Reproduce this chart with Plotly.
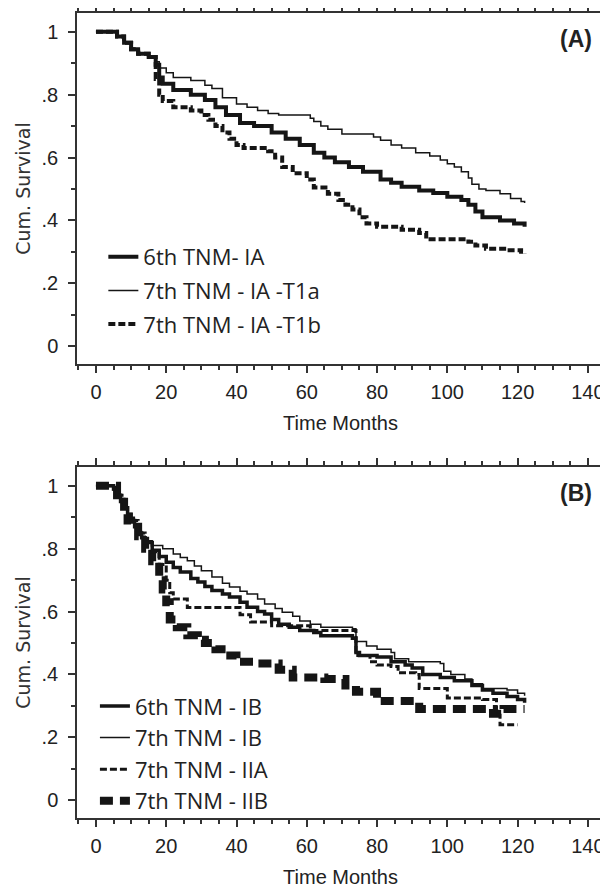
import plotly.graph_objects as go

# ---- panel A: stage IA survival (months, cumulative survival) ----
ia6_months = [0, 6, 8, 10, 12, 15, 17, 18, 19, 22, 27, 31, 34, 37, 41, 45, 50, 54, 58, 62,
              65, 68, 72, 76, 81, 84, 87, 92, 96, 100, 104, 106, 108, 110, 115, 119, 122]
ia6_surv = [1.0, 0.985, 0.965, 0.945, 0.93, 0.92, 0.895, 0.855, 0.835, 0.815, 0.80, 0.783,
            0.76, 0.735, 0.71, 0.70, 0.68, 0.66, 0.64, 0.615, 0.60, 0.585, 0.57, 0.555, 0.53,
            0.52, 0.507, 0.495, 0.487, 0.475, 0.465, 0.45, 0.428, 0.41, 0.40, 0.39, 0.38]

t1a_months = [0, 6, 8, 10, 12, 15, 17, 18, 20, 22, 27, 31, 33, 36, 40, 43, 46, 49, 52, 61,
              62, 64, 66, 70, 79, 81, 84, 87, 91, 95, 98, 100, 102, 104, 106, 107, 109, 111,
              115, 118, 121, 122]
t1a_surv = [1.0, 0.985, 0.965, 0.945, 0.93, 0.92, 0.905, 0.885, 0.87, 0.855, 0.845, 0.83,
            0.82, 0.79, 0.77, 0.76, 0.75, 0.74, 0.735, 0.725, 0.715, 0.70, 0.69, 0.675, 0.665,
            0.655, 0.64, 0.63, 0.615, 0.605, 0.592, 0.58, 0.57, 0.555, 0.535, 0.515, 0.50,
            0.495, 0.485, 0.47, 0.46, 0.455]

t1b_months = [0, 6, 8, 10, 12, 15, 17, 18, 19, 22, 27, 30, 32, 34, 36, 38, 40, 42, 49, 51,
              53, 56, 60, 62, 66, 69, 71, 73, 75, 77, 80, 87, 92, 94, 106, 108, 111, 117, 121,
              122]
t1b_surv = [1.0, 0.985, 0.965, 0.945, 0.93, 0.92, 0.85, 0.80, 0.78, 0.76, 0.75, 0.735, 0.72,
            0.70, 0.68, 0.66, 0.64, 0.63, 0.62, 0.60, 0.57, 0.55, 0.53, 0.505, 0.485, 0.465,
            0.45, 0.435, 0.41, 0.39, 0.38, 0.37, 0.36, 0.34, 0.332, 0.32, 0.31, 0.305, 0.30,
            0.295]

# ---- panel B: stage IB / II survival ----
ib6_months = [0, 5, 6, 7, 8, 9, 10, 11, 12, 13, 14, 16, 18, 20, 22, 24, 27, 29, 31, 33, 36,
              38, 41, 43, 46, 48, 50, 52, 55, 58, 62, 64, 73, 74, 75, 80, 84, 88, 90, 93, 98,
              102, 107, 110, 113, 117, 120, 122]
ib6_surv = [1.0, 0.99, 0.97, 0.95, 0.93, 0.91, 0.89, 0.87, 0.85, 0.835, 0.82, 0.795, 0.775,
            0.757, 0.74, 0.726, 0.705, 0.694, 0.68, 0.667, 0.656, 0.646, 0.63, 0.614, 0.60,
            0.592, 0.575, 0.56, 0.55, 0.54, 0.533, 0.523, 0.515, 0.47, 0.46, 0.455, 0.44,
            0.43, 0.42, 0.40, 0.39, 0.38, 0.365, 0.35, 0.34, 0.33, 0.32, 0.31]

ib7_months = [0, 5, 6, 7, 8, 9, 10, 11, 12, 13, 14, 16, 19, 22, 24, 26, 28, 30, 33, 36, 38,
              41, 43, 46, 48, 51, 53, 56, 58, 61, 64, 73, 74, 77, 80, 84, 85, 89, 98, 99, 101,
              105, 107, 110, 117, 120, 122]
ib7_surv = [1.0, 0.99, 0.97, 0.95, 0.93, 0.91, 0.89, 0.87, 0.855, 0.84, 0.825, 0.81, 0.80,
            0.783, 0.772, 0.762, 0.745, 0.73, 0.71, 0.69, 0.678, 0.665, 0.656, 0.64, 0.624,
            0.61, 0.598, 0.585, 0.57, 0.56, 0.55, 0.545, 0.505, 0.49, 0.48, 0.47, 0.45, 0.44,
            0.435, 0.41, 0.40, 0.385, 0.37, 0.355, 0.35, 0.34, 0.332]

iia_months = [0, 5, 6, 8, 9, 10, 12, 14, 16, 18, 20, 21, 22, 26, 41, 44, 50, 61, 74, 78, 80,
              84, 86, 91, 92, 100, 110, 114, 115, 120]
iia_surv = [1.0, 0.99, 0.97, 0.93, 0.91, 0.89, 0.85, 0.82, 0.79, 0.75, 0.70, 0.66, 0.64,
            0.613, 0.59, 0.567, 0.555, 0.54, 0.46, 0.44, 0.43, 0.425, 0.405, 0.40, 0.355,
            0.325, 0.32, 0.27, 0.24, 0.24]

iib_months = [0, 6, 8, 9, 10, 12, 14, 16, 18, 19, 20, 21, 23, 26, 29, 31, 34, 37, 40, 45,
              52, 56, 65, 71, 74, 80, 92, 113, 116, 122]
iib_surv = [1.0, 0.97, 0.92, 0.89, 0.87, 0.84, 0.80, 0.76, 0.70, 0.67, 0.63, 0.575, 0.55,
            0.525, 0.51, 0.50, 0.48, 0.46, 0.44, 0.435, 0.415, 0.39, 0.385, 0.365, 0.345,
            0.315, 0.29, 0.275, 0.29, 0.29]

x_ticks = [0, 20, 40, 60, 80, 100, 120, 140]
y_ticks = [0, 0.2, 0.4, 0.6, 0.8, 1.0]
y_tick_labels = ["0", ".2", ".4", ".6", ".8", "1"]

INK = "#151515"
AXIS = "#333333"

fig = go.Figure()


def km(months, surv, name, width, dash, xa, ya, legend, rank):
    fig.add_trace(go.Scatter(
        x=months, y=surv, name=name, mode="lines",
        line=dict(shape="hv", width=width, dash=dash, color=INK),
        xaxis=xa, yaxis=ya, legend=legend, legendrank=rank,
        legendgroup=legend + name,
    ))


# panel A
km(t1b_months, t1b_surv, "7th TNM - IA -T1b", 4, "7px,3px", "x", "y", "legend", 3)
km(t1a_months, t1a_surv, "7th TNM - IA -T1a", 1.5, "solid", "x", "y", "legend", 2)
km(ia6_months, ia6_surv, "6th TNM- IA", 4, "solid", "x", "y", "legend", 1)

# panel B
km(iib_months, iib_surv, "7th TNM - IIB", 8, "13px,7px", "x2", "y2", "legend2", 4)
km(iia_months, iia_surv, "7th TNM - IIA", 3, "7px,3px", "x2", "y2", "legend2", 3)
km(ib7_months, ib7_surv, "7th TNM - IB", 1.5, "solid", "x2", "y2", "legend2", 2)
km(ib6_months, ib6_surv, "6th TNM - IB", 3.5, "solid", "x2", "y2", "legend2", 1)

tick_font = dict(family="Liberation Sans, Arial, sans-serif", size=20, color="#222")


def x_axis(anchor):
    return dict(
        anchor=anchor, domain=[0, 1], range=[-5.4, 144.6],
        tickvals=x_ticks, ticks="outside", ticklen=7, tickwidth=1.5, tickcolor=AXIS,
        minor=dict(dtick=5, tick0=0, ticks="outside", ticklen=4, tickwidth=1.5,
                   tickcolor=AXIS),
        showline=True, linewidth=1.5, linecolor=AXIS, mirror="allticks",
        showgrid=False, zeroline=False, tickfont=tick_font, ticklabelstandoff=2,
        title=dict(text="Time Months", standoff=14,
                   font=dict(family="Liberation Sans, Arial, sans-serif", size=20,
                             color="#222")),
        automargin=False,
    )


def y_axis(anchor, domain):
    return dict(
        anchor=anchor, domain=domain, range=[-0.057, 1.06],
        tickvals=y_ticks, ticktext=y_tick_labels,
        ticks="outside", ticklen=7, tickwidth=1.5, tickcolor=AXIS,
        minor=dict(dtick=0.1, tick0=0, ticks="outside", ticklen=4, tickwidth=1.5,
                   tickcolor=AXIS),
        showline=True, linewidth=1.5, linecolor=AXIS, mirror="allticks",
        showgrid=False, zeroline=False, tickfont=tick_font, ticklabelstandoff=6,
        title=dict(text="Cum. Survival", standoff=6,
                   font=dict(family="DejaVu Sans, sans-serif", size=19, color="#333")),
        automargin=False,
    )


legend_style = dict(
    font=dict(family="Open Sans, sans-serif", size=22, color="#222"),
    bgcolor="rgba(0,0,0,0)", borderwidth=0, xref="paper", yref="paper",
    xanchor="left", yanchor="top", traceorder="grouped",
)

# the page body adds an 8px offset, so the figure is 8px smaller than the window
fig.update_layout(
    width=600, height=880,
    margin=dict(l=69, r=4, t=5, b=70, autoexpand=False),
    paper_bgcolor="white", plot_bgcolor="white",
    showlegend=True,
    xaxis=x_axis("y"), yaxis=y_axis("x", [0.564, 1.0]),
    xaxis2=x_axis("y2"), yaxis2=y_axis("x2", [0.0, 0.436]),
    legend=dict(legend_style, x=0.05, y=0.723, tracegroupgap=2),
    legend2=dict(legend_style, x=0.034, y=0.165, tracegroupgap=0),
    annotations=[
        dict(text="<b>(A)</b>", xref="x domain", yref="y domain", x=0.947, y=0.926,
             xanchor="center", yanchor="middle", showarrow=False,
             font=dict(family="Liberation Sans, Arial", size=23, color="#222")),
        dict(text="<b>(B)</b>", xref="x2 domain", yref="y2 domain", x=0.947, y=0.926,
             xanchor="center", yanchor="middle", showarrow=False,
             font=dict(family="Liberation Sans, Arial", size=23, color="#222")),
    ],
)

fig.write_html("out.html")
